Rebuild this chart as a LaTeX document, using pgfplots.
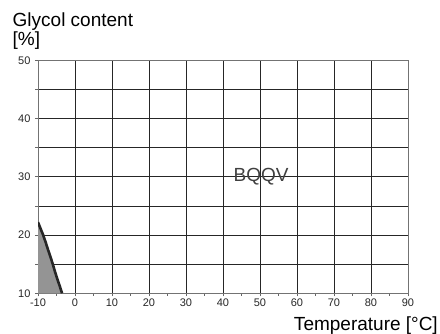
\documentclass[border=0pt]{standalone}
\usepackage{pgfplots}
\pgfplotsset{compat=1.18}
\usepackage{fontspec}
\setmainfont{Liberation Sans}
\begin{document}
\begin{tikzpicture}
\useasboundingbox (0,0) rectangle (440bp,334bp);
\begin{axis}[
  at={(38bp,40.7bp)}, anchor=south west,
  scale only axis, width=370bp, height=233bp,
  xmin=-10, xmax=90, ymin=10, ymax=50,
  xtick={-10,0,...,90}, ytick={10,20,...,50},
  minor xtick={-5,5,...,85}, minor ytick={15,25,35,45},
  xmajorgrids, ymajorgrids, yminorgrids,
  major grid style={black!85, line width=0.8bp},
  minor grid style={black!85, line width=0.8bp},
  axis line style={black!55, line width=1bp},
  tick align=outside, major tick length=3bp, minor tick length=2.5bp,
  tick style={black!60, line width=0.8bp},
  xtick pos=bottom, ytick pos=left,
  /pgf/number format/assume math mode=true,
  ticklabel style={font=\fontsize{11bp}{12bp}\selectfont, text=black!85},
  xticklabel style={yshift=1bp},
  yticklabel style={xshift=-1bp},
  clip=true,
]
\addplot[fill=black!42, draw=none] coordinates {
 (-10,10) (-10,22.2) (-9.3,21.1) (-8.6,20) (-7.9,18.7) (-7.3,17.5) (-6.6,16.2) (-6.0,15) (-5.4,13.7) (-4.8,12.5) (-4.1,11.2) (-3.5,10)
} -- cycle;
\addplot[black!85, line width=2.6bp] coordinates {
 (-10,22.2) (-9.3,21.1) (-8.6,20) (-7.9,18.7) (-7.3,17.5) (-6.6,16.2) (-6.0,15) (-5.4,13.7) (-4.8,12.5) (-4.1,11.2) (-3.5,10)
};
\node[font=\fontsize{19bp}{21bp}\selectfont, text=black!75] at (axis cs:50.3,30) {BQQV};
\end{axis}
\node[anchor=base west, font=\fontsize{19bp}{21bp}\selectfont, inner sep=0pt] at (12.5bp,307.5bp) {Glycol content};
\node[anchor=base west, font=\fontsize{19bp}{21bp}\selectfont, inner sep=0pt] at (12.5bp,288bp) {[\%]};
\node[anchor=base east, font=\fontsize{19bp}{21bp}\selectfont, inner sep=0pt] at (438bp,4bp) {Temperature [°C]};
\end{tikzpicture}
\end{document}
